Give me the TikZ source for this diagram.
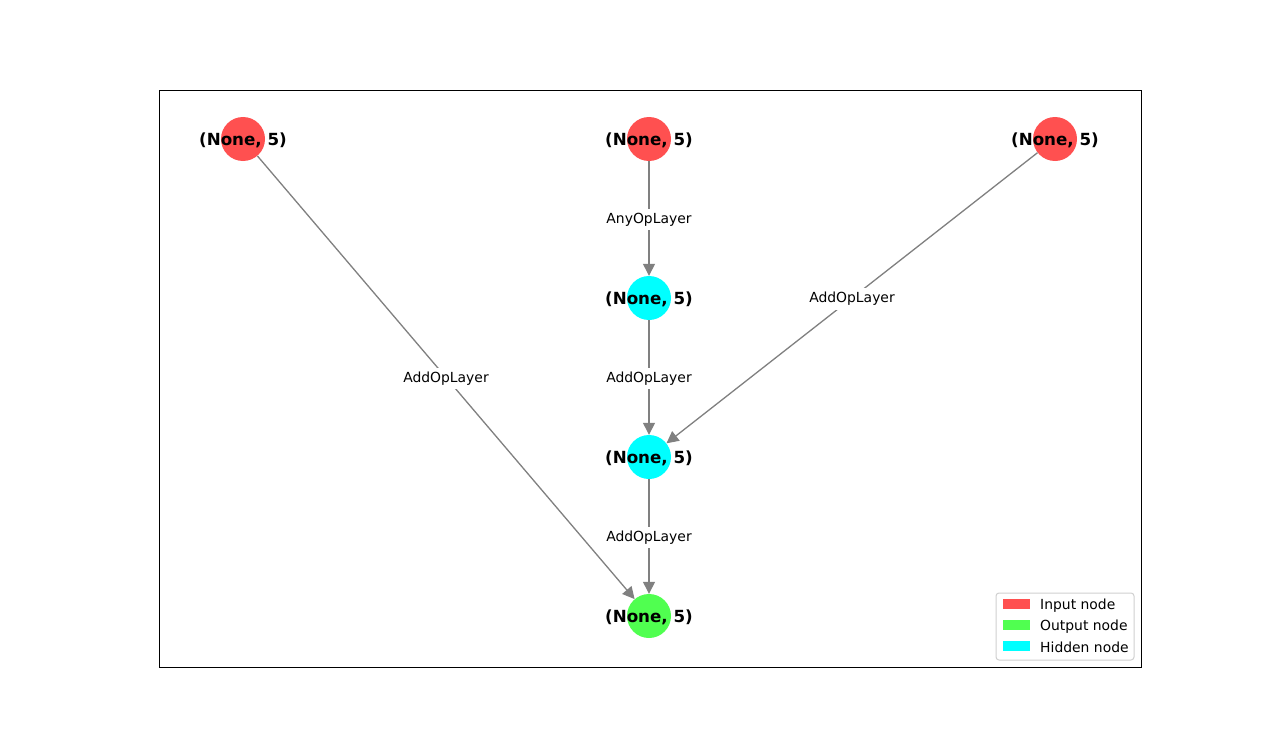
\documentclass[tikz,border=0pt]{standalone}
\usepackage{fontspec}
\setmainfont{DejaVu Sans}
\usetikzlibrary{arrows.meta}
\definecolor{inred}{HTML}{FF5050}
\definecolor{outgreen}{HTML}{50FF50}
\definecolor{hidcyan}{HTML}{00FFFF}
\definecolor{edgegray}{HTML}{808080}
\definecolor{legborder}{HTML}{D0D0D0}
\tikzset{
  gnode/.style={circle, minimum size=44pt, inner sep=0pt, draw=none},
  glabel/.style={inner sep=0pt, yshift=-1pt, font=\fontsize{16.7}{20}\selectfont\bfseries},
  gedge/.style={draw=edgegray, line width=1.3pt, -{Triangle[length=12pt,width=12pt]}},
  elabel/.style={fill=white, inner sep=4pt, yshift=-1pt, font=\fontsize{13.9}{16}\selectfont},
  legpatch/.style={minimum width=27pt, minimum height=10pt, inner sep=0pt},
  legtext/.style={anchor=west, inner sep=0pt, yshift=-1.5pt, font=\fontsize{13.9}{16}\selectfont}
}
\begin{document}
\begin{tikzpicture}[x=1pt,y=-1pt]
\useasboundingbox (0,0) rectangle (1268,749);
\fill[white] (0,0) rectangle (1268,749);
\draw[black, line width=0.9pt] (159,90) rectangle (1141,667);
% nodes
\node[gnode, fill=inred] (i1) at (243,139) {};
\node[gnode, fill=inred] (i2) at (649,139) {};
\node[gnode, fill=inred] (i3) at (1055,139) {};
\node[gnode, fill=hidcyan] (h1) at (649,298) {};
\node[gnode, fill=hidcyan] (h2) at (649,457) {};
\node[gnode, fill=outgreen] (o1) at (649,616) {};
% edges
\draw[gedge] (i2) -- node[elabel] {AnyOpLayer} (h1);
\draw[gedge] (h1) -- node[elabel] {AddOpLayer} (h2);
\draw[gedge] (i3) -- node[elabel] {AddOpLayer} (h2);
\draw[gedge] (h2) -- node[elabel] {AddOpLayer} (o1);
\draw[gedge] (i1) -- node[elabel] {AddOpLayer} (o1);
% labels
\foreach \n in {i1,i2,i3,h1,h2,o1}{
  \node[glabel] (\n-t) at (\n) {(None, 5)};
}
% legend
\draw[legborder, fill=white, rounded corners=3pt, line width=1pt] (996,593) rectangle (1134,660);
\node[legpatch, fill=inred] (lp1) at (1016,604) {};
\node[legpatch, fill=outgreen] (lp2) at (1016,625) {};
\node[legpatch, fill=hidcyan] (lp3) at (1016,646) {};
\node[legtext] (lt1) at (1040,604) {Input node};
\node[legtext] (lt2) at (1040,625) {Output node};
\node[legtext] (lt3) at (1040,646) {Hidden node};
\end{tikzpicture}
\end{document}
